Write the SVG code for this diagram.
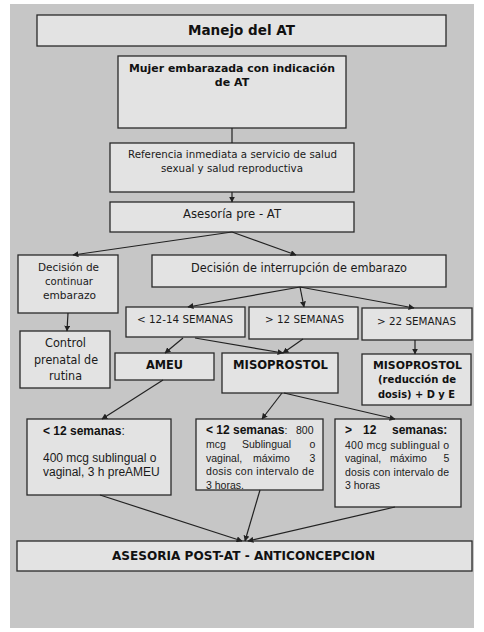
<svg xmlns="http://www.w3.org/2000/svg" width="484" height="632" viewBox="0 0 484 632">
<defs>
<marker id="ah" viewBox="0 0 10 10" refX="9" refY="5" markerWidth="6" markerHeight="6" orient="auto" markerUnits="userSpaceOnUse">
<path d="M0,0 L10,5 L0,10 z" fill="#222"/>
</marker>
<style>
.box{fill:#e3e3e3;stroke:#2a2a2a;stroke-width:1.3}
.v{font-family:"DejaVu Sans",Verdana,sans-serif;fill:#1a1a1a}
.vb{font-family:"DejaVu Sans",Verdana,sans-serif;font-weight:bold;fill:#111}
.a{font-family:"Liberation Sans",Arial,sans-serif;fill:#1a1a1a}
.ab{font-family:"Liberation Sans",Arial,sans-serif;font-weight:bold;fill:#111}
.c{text-anchor:middle}
.con line{stroke:#222;stroke-width:1.2}
.arr{marker-end:url(#ah)}
</style>
</defs>
<rect x="0" y="0" width="484" height="632" fill="#ffffff"/>
<rect x="10" y="4" width="464" height="624" fill="#c6c6c6"/>

<g id="n-title">
<rect class="box" x="37" y="15" width="409" height="31"/>
<text class="vb c" x="241.5" y="35" font-size="14" textLength="107" lengthAdjust="spacingAndGlyphs">Manejo del AT</text>
</g>
<g id="n-mujer">
<rect class="box" x="118" y="56" width="228" height="72"/>
<text class="vb c" x="232" y="72" font-size="11" textLength="206" lengthAdjust="spacingAndGlyphs">Mujer embarazada con indicación</text>
<text class="vb c" x="232" y="86" font-size="11">de AT</text>
</g>
<g id="n-referencia">
<rect class="box" x="110" y="143" width="244" height="49"/>
<text class="v c" x="232.5" y="158" font-size="11" textLength="209" lengthAdjust="spacingAndGlyphs">Referencia inmediata a servicio de salud</text>
<text class="v c" x="232" y="172" font-size="11" textLength="142" lengthAdjust="spacingAndGlyphs">sexual y salud reproductiva</text>
</g>
<g id="n-asesoria">
<rect class="box" x="110" y="202" width="244" height="30"/>
<text class="v c" x="232" y="218" font-size="11.5" textLength="98" lengthAdjust="spacingAndGlyphs">Asesoría pre - AT</text>
</g>
<g id="n-continuar">
<rect class="box" x="18" y="255" width="100" height="58"/>
<text class="v c" x="68.5" y="271" font-size="11" textLength="61" lengthAdjust="spacingAndGlyphs">Decisión de</text>
<text class="v c" x="69" y="285" font-size="11" textLength="48" lengthAdjust="spacingAndGlyphs">continuar</text>
<text class="v c" x="69.5" y="299" font-size="11" textLength="53" lengthAdjust="spacingAndGlyphs">embarazo</text>
</g>
<g id="n-interrupcion">
<rect class="box" x="152" y="255" width="294" height="32"/>
<text class="v c" x="299" y="272" font-size="12" textLength="216" lengthAdjust="spacingAndGlyphs">Decisión de interrupción de embarazo</text>
</g>
<g id="n-s1214">
<rect class="box" x="126" y="307" width="119" height="30"/>
<text class="v c" x="185" y="323" font-size="10.5" textLength="96" lengthAdjust="spacingAndGlyphs">&lt; 12-14 SEMANAS</text>
</g>
<g id="n-s12">
<rect class="box" x="249" y="307" width="109" height="32"/>
<text class="v c" x="304.5" y="323" font-size="10.5" textLength="79" lengthAdjust="spacingAndGlyphs">&gt; 12 SEMANAS</text>
</g>
<g id="n-s22">
<rect class="box" x="362" y="308" width="110" height="32"/>
<text class="v c" x="416.5" y="325" font-size="10.5" textLength="79" lengthAdjust="spacingAndGlyphs">&gt; 22 SEMANAS</text>
</g>
<g id="n-control">
<rect class="box" x="20" y="331" width="90" height="57"/>
<text class="v c" x="65.5" y="347" font-size="12" textLength="41" lengthAdjust="spacingAndGlyphs">Control</text>
<text class="v c" x="66" y="364" font-size="12" textLength="64" lengthAdjust="spacingAndGlyphs">prenatal de</text>
<text class="v c" x="65.5" y="380" font-size="12" textLength="33" lengthAdjust="spacingAndGlyphs">rutina</text>
</g>
<g id="n-ameu">
<rect class="box" x="115" y="353" width="99" height="27"/>
<text class="vb c" x="164.5" y="369" font-size="12" textLength="37" lengthAdjust="spacingAndGlyphs">AMEU</text>
</g>
<g id="n-miso">
<rect class="box" x="222" y="353" width="116" height="40"/>
<text class="vb c" x="280.5" y="369" font-size="12" textLength="95" lengthAdjust="spacingAndGlyphs">MISOPROSTOL</text>
</g>
<g id="n-miso2">
<rect class="box" x="362" y="354" width="109" height="51"/>
<text class="vb c" x="417.5" y="369" font-size="11" textLength="89" lengthAdjust="spacingAndGlyphs">MISOPROSTOL</text>
<text class="vb c" x="417" y="383" font-size="11" textLength="78" lengthAdjust="spacingAndGlyphs">(reducción de</text>
<text class="vb c" x="416.5" y="398" font-size="11" textLength="77" lengthAdjust="spacingAndGlyphs">dosis) + D y E</text>
</g>
<g id="n-left">
<rect class="box" x="27" y="419" width="144" height="76"/>
<text class="a" x="43" y="435" font-size="12"><tspan class="ab">&lt; 12 semanas</tspan>:</text>
<text class="a" x="43" y="462" font-size="12">400 mcg sublingual o</text>
<text class="a" x="43" y="475.5" font-size="12">vaginal, 3 h preAMEU</text>
</g>
<g id="n-mid">
<rect class="box" x="196" y="419" width="127" height="71"/>
<text class="a" font-size="10.5" y="434"><tspan class="ab" x="206" font-size="12">&lt; 12 semanas</tspan>:<tspan x="296">800</tspan></text>
<text class="a" font-size="10.5" y="448"><tspan x="206">mcg</tspan><tspan x="242">Sublingual</tspan><tspan x="309.5">o</tspan></text>
<text class="a" font-size="10.5" y="461.5"><tspan x="206">vaginal,</tspan><tspan x="253">máximo</tspan><tspan x="309.5">3</tspan></text>
<text class="a" font-size="10.5" x="206" y="475" textLength="108" lengthAdjust="spacing">dosis con intervalo de</text>
<text class="a" font-size="10.5" x="206" y="488.5">3 horas.</text>
</g>
<g id="n-right">
<rect class="box" x="335" y="419" width="126" height="88"/>
<text class="ab" font-size="12" y="434"><tspan x="345">&gt;</tspan><tspan x="363">12</tspan><tspan x="392">semanas:</tspan></text>
<text class="a" font-size="10.5" x="345" y="448.5" textLength="104" lengthAdjust="spacing">400 mcg sublingual o</text>
<text class="a" font-size="10.5" y="462"><tspan x="345">vaginal,</tspan><tspan x="390">máximo</tspan><tspan x="443.5">5</tspan></text>
<text class="a" font-size="10.5" x="345" y="475.5" textLength="104" lengthAdjust="spacing">dosis con intervalo de</text>
<text class="a" font-size="10.5" x="345" y="489">3 horas</text>
</g>
<g id="n-post">
<rect class="box" x="17" y="541" width="455" height="30"/>
<text class="vb c" x="243.5" y="560" font-size="13" textLength="263" lengthAdjust="spacingAndGlyphs">ASESORIA POST-AT - ANTICONCEPCION</text>
</g>

<g id="connectors" class="con">
<line x1="232" y1="128" x2="232" y2="143"/>
<line class="arr" x1="232" y1="192" x2="232" y2="202"/>
<line class="arr" x1="232" y1="232" x2="73" y2="255"/>
<line class="arr" x1="232" y1="232" x2="296" y2="255"/>
<line class="arr" x1="300" y1="287" x2="188" y2="307"/>
<line class="arr" x1="300" y1="287" x2="304" y2="307"/>
<line class="arr" x1="300" y1="287" x2="414" y2="308"/>
<line class="arr" x1="68" y1="313" x2="67" y2="331"/>
<line class="arr" x1="183" y1="338" x2="165" y2="353"/>
<line class="arr" x1="195" y1="338" x2="283" y2="353"/>
<line class="arr" x1="303" y1="339" x2="283" y2="353"/>
<line class="arr" x1="415" y1="340" x2="415" y2="354"/>
<line class="arr" x1="163" y1="380" x2="102" y2="419"/>
<line class="arr" x1="282" y1="393" x2="262" y2="419"/>
<line class="arr" x1="284" y1="393" x2="395" y2="419"/>
<line class="arr" x1="100" y1="495" x2="242" y2="541"/>
<line class="arr" x1="260" y1="490" x2="245" y2="541"/>
<line class="arr" x1="395" y1="507" x2="248" y2="541"/>
</g>
</svg>
